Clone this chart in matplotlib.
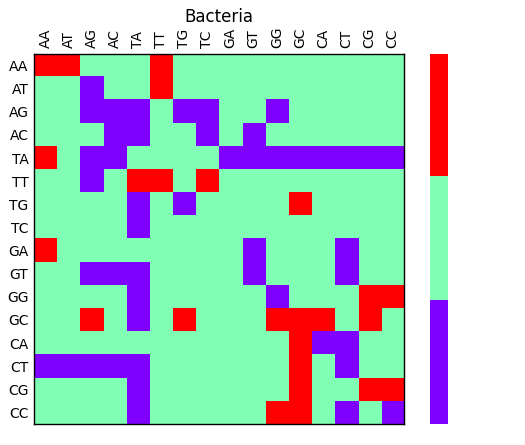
import numpy as np
import matplotlib
matplotlib.use("Agg")
import matplotlib.pyplot as plt
from matplotlib.colors import ListedColormap, BoundaryNorm

labels = ["AA", "AT", "AG", "AC", "TA", "TT", "TG", "TC",
          "GA", "GT", "GG", "GC", "CA", "CT", "CG", "CC"]

# 1 = red, 0 = green, -1 = purple
row_AA = [1, 1, 0, 0, 0, 1, 0, 0, 0, 0, 0, 0, 0, 0, 0, 0]
row_AT = [0, 0, -1, 0, 0, 1, 0, 0, 0, 0, 0, 0, 0, 0, 0, 0]
row_AG = [0, 0, -1, -1, -1, 0, -1, -1, 0, 0, -1, 0, 0, 0, 0, 0]
row_AC = [0, 0, 0, -1, -1, 0, 0, -1, 0, -1, 0, 0, 0, 0, 0, 0]
row_TA = [1, 0, -1, -1, 0, 0, 0, 0, -1, -1, -1, -1, -1, -1, -1, -1]
row_TT = [0, 0, -1, 0, 1, 1, 0, 1, 0, 0, 0, 0, 0, 0, 0, 0]
row_TG = [0, 0, 0, 0, -1, 0, -1, 0, 0, 0, 0, 1, 0, 0, 0, 0]
row_TC = [0, 0, 0, 0, -1, 0, 0, 0, 0, 0, 0, 0, 0, 0, 0, 0]
row_GA = [1, 0, 0, 0, 0, 0, 0, 0, 0, -1, 0, 0, 0, -1, 0, 0]
row_GT = [0, 0, -1, -1, -1, 0, 0, 0, 0, -1, 0, 0, 0, -1, 0, 0]
row_GG = [0, 0, 0, 0, -1, 0, 0, 0, 0, 0, -1, 0, 0, 0, 1, 1]
row_GC = [0, 0, 1, 0, -1, 0, 1, 0, 0, 0, 1, 1, 1, 0, 1, 0]
row_CA = [0, 0, 0, 0, 0, 0, 0, 0, 0, 0, 0, 1, -1, -1, 0, 0]
row_CT = [-1, -1, -1, -1, -1, 0, 0, 0, 0, 0, 0, 1, 0, -1, 0, 0]
row_CG = [0, 0, 0, 0, -1, 0, 0, 0, 0, 0, 0, 1, 0, 0, 1, 1]
row_CC = [0, 0, 0, 0, -1, 0, 0, 0, 0, 0, 1, 1, 0, -1, 0, -1]

data = np.array([row_AA, row_AT, row_AG, row_AC, row_TA, row_TT, row_TG, row_TC,
                 row_GA, row_GT, row_GG, row_GC, row_CA, row_CT, row_CG, row_CC])

rb = plt.get_cmap("rainbow")
cmap = ListedColormap([rb(0.0), rb(0.5), rb(1.0)])
norm = BoundaryNorm([-1.5, -0.5, 0.5, 1.5], 3)

fig = plt.figure(figsize=(5.25, 4.45), dpi=100)
ax = fig.add_axes([0.0648, 0.0472, 0.7048, 0.8315])
ax.imshow(data, cmap=cmap, norm=norm, aspect="auto", interpolation="nearest")
ax.set_xticks(range(len(labels)))
ax.set_yticks(range(len(labels)))
ax.set_xticklabels(labels, rotation=90, fontsize=10)
ax.set_yticklabels(labels, fontsize=10)
ax.xaxis.tick_top()
ax.tick_params(length=0, pad=4)
for s in ax.spines.values():
    s.set_linewidth(1.0)
ax.set_title("Bacteria", fontsize=12, pad=23)

cax = fig.add_axes([0.819, 0.0472, 0.0324, 0.8315])
cax.imshow(np.array([[1], [0], [-1]]), cmap=cmap, norm=norm, aspect="auto",
           interpolation="nearest")
cax.set_xticks([])
cax.set_yticks([])
for s in cax.spines.values():
    s.set_visible(False)

fig.savefig("out.png", dpi=100)
